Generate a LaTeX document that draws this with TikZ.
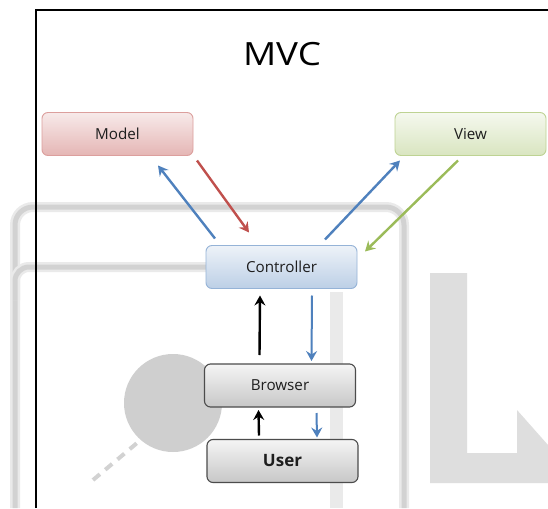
\documentclass[tikz,border=0pt]{standalone}
\usepackage{fontspec}
\setmainfont{Open Sans}
\usetikzlibrary{arrows.meta}
\definecolor{oblue}{HTML}{4F81BD}
\definecolor{ored}{HTML}{C0504D}
\definecolor{ogreen}{HTML}{9BBB59}
\definecolor{wmdark}{HTML}{D2D2D2}
\definecolor{wmlight}{HTML}{EAEAEA}
\definecolor{txt}{HTML}{1E1E1E}
\begin{document}
\begin{tikzpicture}[x=1pt,y=-1pt,
  box/.style={rounded corners=6pt, line width=0.9pt, minimum width=151pt,
    minimum height=43pt, inner sep=0pt, outer sep=0pt, text=txt,
    font=\fontsize{15.2}{18}\selectfont},
  modelbox/.style={box, draw=ored!55, top color=ored!12, bottom color=ored!42},
  viewbox/.style={box, draw=ogreen!65, top color=ogreen!10, bottom color=ogreen!38},
  ctrlbox/.style={box, draw=oblue!60, top color=oblue!10, bottom color=oblue!38},
  graybox/.style={box, draw=black!70, line width=1.1pt, top color=black!4, bottom color=black!22},
  arr/.style={line width=2.4pt, -{Stealth[length=10pt,width=11pt,inset=3.5pt]}},
  wmline/.style={wmdark, line width=5pt},
  wmhalo/.style={wmlight, line width=10pt}
]
\useasboundingbox (0,0) rectangle (548,508);
\fill[white] (0,0) rectangle (548,508);

% faded watermark in the background
\draw[wmhalo, rounded corners=18pt] (15,508) -- (15,207) -- (404,207) -- (404,508);
\draw[wmline, rounded corners=18pt] (15,508) -- (15,207) -- (404,207) -- (404,508);
\draw[wmhalo, rounded corners=14pt] (15,300) |- (210,267);
\draw[wmline, rounded corners=14pt] (15,300) |- (210,267);
\draw[wmlight, line width=13pt] (336,292) -- (336,508);
\fill[black!19] (173,403) circle (49);
\draw[wmdark, line width=4pt, dash pattern=on 9pt off 7pt] (93,480) -- (137,443);
\fill[black!13] (430,273) -- (467,273) -- (467,453) -- (517,453) -- (517,410)
  -- (548,445) -- (548,483) -- (430,483) -- cycle;

% frame
\draw[line width=2pt] (36,508) -- (36,10) -- (548,10);

% title
\node[font=\fontsize{32}{36}\selectfont, text=black, xscale=1.15] (title) at (282,54) {MVC};

% boxes
\node[modelbox] (model) at (117.5,134) {Model};
\node[viewbox]  (view)  at (470.5,134) {View};
\node[ctrlbox]  (ctrl)  at (281.5,267) {Controller};
\node[graybox]  (browser) at (280,385.5) {Browser};
\node[graybox, font=\fontsize{17}{20}\selectfont\bfseries] (user) at (282.5,461) {User};

% connectors
\draw[arr, oblue] ([shift={(9,-7)}]ctrl.north west) -- ([shift={(116,10)}]model.south west);
\draw[arr, ored]  ([shift={(4,5)}]model.south east) -- ([shift={(43,-13)}]ctrl.north west);
\draw[arr, oblue] ([shift={(119,-6)}]ctrl.north west) -- ([shift={(5,5)}]view.south west);
\draw[arr, ogreen] ([shift={(63,5)}]view.south west) -- ([shift={(8,6)}]ctrl.north east);
\draw[arr, black] ([shift={(55,-9)}]browser.north west) -- ([shift={(54,7)}]ctrl.south west);
\draw[arr, oblue, line width=2pt] ([shift={(106,7)}]ctrl.south west) -- ([shift={(107,-3)}]browser.north west);
\draw[arr, black] ([shift={(52,-4)}]user.north west) -- ([shift={(54,3)}]browser.south west);
\draw[arr, oblue, line width=2pt] ([shift={(112,6)}]browser.south west) -- ([shift={(110,-2)}]user.north west);
\end{tikzpicture}
\end{document}
